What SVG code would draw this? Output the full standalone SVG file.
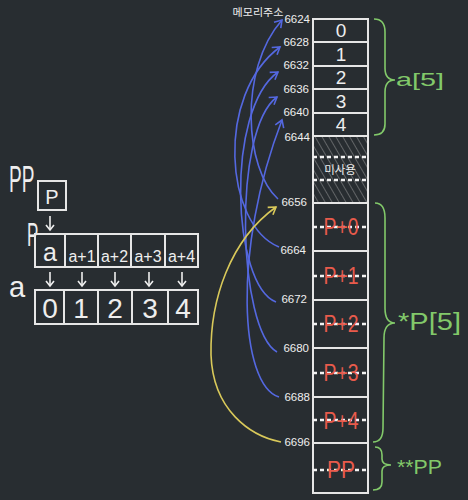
<svg xmlns="http://www.w3.org/2000/svg" width="468" height="500" viewBox="0 0 468 500">
<defs>
<style>
.w{fill:#eeeeee;font-family:"Liberation Sans",sans-serif}
.r{fill:#e85b4c;font-family:"Liberation Sans",sans-serif}
.g{fill:#82c96a;font-family:"Liberation Sans",sans-serif}
.k{fill:#eeeeee;font-family:"Noto Sans CJK KR",sans-serif}
.box{fill:none;stroke:#e6e6e6;stroke-width:2}
.dash{stroke:#f2f2f2;stroke-width:2.5;stroke-dasharray:4 3}
.sol{stroke:#e6e6e6;stroke-width:2}
.blue{fill:none;stroke:#5468e0;stroke-width:1.6}
.yel{fill:none;stroke:#d9c95a;stroke-width:1.6}
.brace{fill:none;stroke:#82c96a;stroke-width:1.6}
.ar{fill:none;stroke:#eeeeee;stroke-width:1.6}
.addr{font-size:11.5px;text-anchor:end}
</style>
<marker id="mb" markerWidth="12" markerHeight="12" refX="0" refY="0" viewBox="-8 -6 10 12" orient="auto" markerUnits="userSpaceOnUse">
<path d="M-7,-4.5 L0,0 L-7,4.5" fill="none" stroke="#5468e0" stroke-width="1.6"/>
</marker>
<marker id="my" markerWidth="12" markerHeight="12" refX="0" refY="0" viewBox="-8 -6 10 12" orient="auto" markerUnits="userSpaceOnUse">
<path d="M-7,-4.5 L0,0 L-7,4.5" fill="none" stroke="#d9c95a" stroke-width="1.6"/>
</marker>
<marker id="mw" markerWidth="10" markerHeight="10" refX="0" refY="0" viewBox="-6 -5 8 10" orient="auto" markerUnits="userSpaceOnUse">
<path d="M-5,-4 L0,0 L-5,4" fill="none" stroke="#eeeeee" stroke-width="1.6"/>
</marker>
<pattern id="hatch" width="6" height="6" patternUnits="userSpaceOnUse" patternTransform="rotate(-30)">
<line x1="0" y1="0" x2="0" y2="6" stroke="#a8a8a8" stroke-width="0.9"/>
</pattern>
</defs>
<rect width="468" height="500" fill="#282d31"/>

<!-- left diagram -->
<g id="pp-label"><text class="w" transform="translate(9,192) scale(0.53,1)" font-size="36">PP</text></g>
<g id="pp-box">
<rect class="box" x="38" y="181" width="28" height="29"/>
<text class="w" x="52" y="204" font-size="20" text-anchor="middle">P</text>
</g>
<g id="p-label"><text class="w" transform="translate(27,246) scale(0.5,1)" font-size="34">P</text></g>
<g id="p-array">
<rect class="box" x="35" y="234" width="163" height="33"/>
<line class="sol" x1="65" y1="234" x2="65" y2="267"/>
<line class="sol" x1="98" y1="234" x2="98" y2="267"/>
<line class="sol" x1="131" y1="234" x2="131" y2="267"/>
<line class="sol" x1="165" y1="234" x2="165" y2="267"/>
<text class="w" x="50" y="261" font-size="25" text-anchor="middle">a</text>
<text class="w" x="82" y="262" font-size="16" text-anchor="middle" textLength="27" lengthAdjust="spacingAndGlyphs">a+1</text>
<text class="w" x="114.5" y="262" font-size="16" text-anchor="middle" textLength="27" lengthAdjust="spacingAndGlyphs">a+2</text>
<text class="w" x="148" y="262" font-size="16" text-anchor="middle" textLength="27" lengthAdjust="spacingAndGlyphs">a+3</text>
<text class="w" x="181.5" y="262" font-size="16" text-anchor="middle" textLength="27" lengthAdjust="spacingAndGlyphs">a+4</text>
</g>
<g id="a-label"><text class="w" x="9" y="297" font-size="29">a</text></g>
<g id="a-array">
<rect class="box" x="35" y="290" width="163" height="34"/>
<line class="sol" x1="64" y1="290" x2="64" y2="324"/>
<line class="sol" x1="98" y1="290" x2="98" y2="324"/>
<line class="sol" x1="132" y1="290" x2="132" y2="324"/>
<line class="sol" x1="168" y1="290" x2="168" y2="324"/>
<text class="w" x="50" y="318" font-size="28" text-anchor="middle">0</text>
<text class="w" x="81" y="318" font-size="28" text-anchor="middle">1</text>
<text class="w" x="115" y="318" font-size="28" text-anchor="middle">2</text>
<text class="w" x="150" y="318" font-size="28" text-anchor="middle">3</text>
<text class="w" x="183" y="318" font-size="28" text-anchor="middle">4</text>
</g>
<g id="left-arrows">
<line class="ar" x1="50" y1="216" x2="50" y2="230" marker-end="url(#mw)"/>
<line class="ar" x1="50" y1="272" x2="50" y2="286" marker-end="url(#mw)"/>
<line class="ar" x1="82" y1="272" x2="82" y2="286" marker-end="url(#mw)"/>
<line class="ar" x1="115" y1="272" x2="115" y2="286" marker-end="url(#mw)"/>
<line class="ar" x1="149" y1="272" x2="149" y2="286" marker-end="url(#mw)"/>
<line class="ar" x1="182" y1="272" x2="182" y2="286" marker-end="url(#mw)"/>
</g>

<!-- memory column -->
<g id="memory">
<rect x="313" y="136" width="55" height="67" fill="url(#hatch)"/>
<rect class="box" x="313" y="19" width="55" height="474"/>
<line class="sol" x1="313" y1="42" x2="368" y2="42"/>
<line class="sol" x1="313" y1="66" x2="368" y2="66"/>
<line class="sol" x1="313" y1="89" x2="368" y2="89"/>
<line class="sol" x1="313" y1="113" x2="368" y2="113"/>
<line class="sol" x1="313" y1="136" x2="368" y2="136"/>
<line class="dash" x1="313" y1="157" x2="369" y2="157"/>
<line class="dash" x1="313" y1="180" x2="369" y2="180"/>
<line class="sol" x1="313" y1="203" x2="368" y2="203"/>
<line class="dash" x1="313" y1="227" x2="369" y2="227"/>
<line class="sol" x1="313" y1="251" x2="368" y2="251"/>
<line class="dash" x1="313" y1="276" x2="369" y2="276"/>
<line class="sol" x1="313" y1="300" x2="368" y2="300"/>
<line class="dash" x1="313" y1="324" x2="369" y2="324"/>
<line class="sol" x1="313" y1="348" x2="368" y2="348"/>
<line class="dash" x1="313" y1="373" x2="369" y2="373"/>
<line class="sol" x1="313" y1="397" x2="368" y2="397"/>
<line class="dash" x1="313" y1="420" x2="369" y2="420"/>
<line class="sol" x1="313" y1="443" x2="368" y2="443"/>
<line class="dash" x1="313" y1="470" x2="369" y2="470"/>
<text class="w" x="341" y="37" font-size="19" text-anchor="middle">0</text>
<text class="w" x="341" y="61" font-size="19" text-anchor="middle">1</text>
<text class="w" x="341" y="84" font-size="19" text-anchor="middle">2</text>
<text class="w" x="341" y="108" font-size="19" text-anchor="middle">3</text>
<text class="w" x="341" y="131" font-size="19" text-anchor="middle">4</text>
<text class="k" x="340" y="174" font-size="11.5" text-anchor="middle">미사용</text>
<text class="r" x="341" y="235" font-size="24" text-anchor="middle" textLength="35" lengthAdjust="spacingAndGlyphs">P+0</text>
<text class="r" x="341" y="284" font-size="24" text-anchor="middle" textLength="35" lengthAdjust="spacingAndGlyphs">P+1</text>
<text class="r" x="341" y="332" font-size="24" text-anchor="middle" textLength="35" lengthAdjust="spacingAndGlyphs">P+2</text>
<text class="r" x="341" y="381" font-size="24" text-anchor="middle" textLength="35" lengthAdjust="spacingAndGlyphs">P+3</text>
<text class="r" x="341" y="429" font-size="24" text-anchor="middle" textLength="35" lengthAdjust="spacingAndGlyphs">P+4</text>
<text class="r" x="341" y="478" font-size="24" text-anchor="middle" textLength="28" lengthAdjust="spacingAndGlyphs">PP</text>
</g>

<g id="addresses">
<text class="k" x="258" y="16" font-size="10" text-anchor="middle" textLength="51" lengthAdjust="spacingAndGlyphs">메모리주소</text>
<text class="w addr" x="310" y="23">6624</text>
<text class="w addr" x="309" y="46">6628</text>
<text class="w addr" x="309" y="69">6632</text>
<text class="w addr" x="309" y="93">6636</text>
<text class="w addr" x="309" y="116">6640</text>
<text class="w addr" x="310" y="141">6644</text>
<text class="w addr" x="307" y="206">6656</text>
<text class="w addr" x="306" y="254">6664</text>
<text class="w addr" x="307" y="303">6672</text>
<text class="w addr" x="309" y="352">6680</text>
<text class="w addr" x="310" y="401">6688</text>
<text class="w addr" x="310" y="446">6696</text>
</g>

<g id="connectors">
<path class="blue" d="M278,199 C245,170 238,70 282,20" marker-end="url(#mb)"/>
<path class="blue" d="M279,247 C225,225 215,95 280,47" marker-end="url(#mb)"/>
<path class="blue" d="M276,302 C232,285 225,110 278,72" marker-end="url(#mb)"/>
<path class="blue" d="M277,352 C238,330 232,130 277,97" marker-end="url(#mb)"/>
<path class="blue" d="M279,397 C240,385 232,250 282,120" marker-end="url(#mb)"/>
<path class="yel" d="M281,442 C250,436 213,410 211,355 C210,300 230,240 276,207" marker-end="url(#my)"/>
</g>

<g id="braces">
<path class="brace" d="M374,19 Q385,19 385,32 L385,68 Q385,80 395,80 Q385,80 385,92 L385,124 Q385,135 374,135"/>
<path class="brace" d="M375,203 Q385,203 385,218 L385,308 Q385,323 395,323 Q384,323 384,338 L383,428 Q383,442 373,442"/>
<path class="brace" d="M375,447 Q382,447 382,455 L382,459 Q382,465 391,465 Q382,465 382,471 L382,482 Q382,490 373,490"/>
<text class="g" x="396" y="86" font-size="18" textLength="48" lengthAdjust="spacingAndGlyphs">a[5]</text>
<text class="g" x="398" y="330" font-size="23" textLength="63" lengthAdjust="spacingAndGlyphs">*P[5]</text>
<text class="g" x="397" y="474" font-size="20" textLength="45" lengthAdjust="spacingAndGlyphs">**PP</text>
</g>
</svg>
